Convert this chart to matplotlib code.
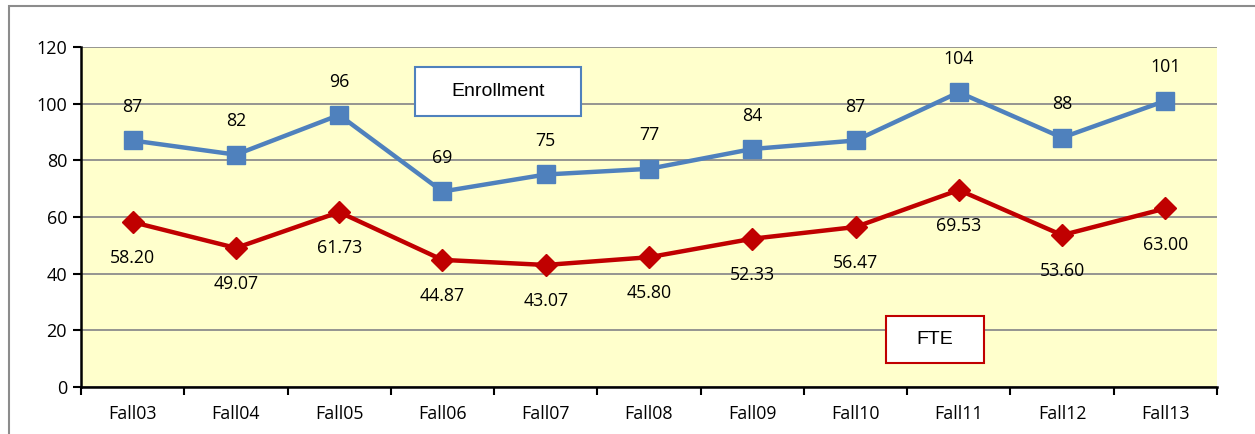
import numpy as np
import matplotlib
matplotlib.use('Agg')
import matplotlib.pyplot as plt
from matplotlib.patches import Rectangle

plt.rcParams['font.family'] = ['Open Sans', 'DejaVu Sans']

terms = ['Fall03', 'Fall04', 'Fall05', 'Fall06', 'Fall07', 'Fall08',
         'Fall09', 'Fall10', 'Fall11', 'Fall12', 'Fall13']
enrollment = [87, 82, 96, 69, 75, 77, 84, 87, 104, 88, 101]
fte = [58.20, 49.07, 61.73, 44.87, 43.07, 45.80, 52.33, 56.47, 69.53, 53.60, 63.00]

blue = '#4F81BD'
red = '#C00000'

W, H = 1255, 434
fig = plt.figure(figsize=(W / 100, H / 100), dpi=100)
# outer chart border (gray)
fig.add_artist(Rectangle((9 / W, -0.01), 1.2, (H - 6) / H + 0.01,
                         transform=fig.transFigure, fill=False,
                         edgecolor='#8c8c8c', linewidth=1.5))

ax = fig.add_axes([81 / W, 47 / H, (1217 - 81) / W, (387 - 47) / H])
ax.set_facecolor('#FFFFCC')

x = np.arange(len(terms))
ax.plot(x, enrollment, color=blue, lw=3.2, marker='s', ms=13, zorder=3)
ax.plot(x, fte, color=red, lw=3.2, marker='D', ms=11, zorder=3)

for xi, v in zip(x, enrollment):
    ax.annotate(f'{v:d}', (xi, v), xytext=(0, 24), textcoords='offset points',
                ha='center', va='center', fontsize=12.8)
for xi, v in zip(x, fte):
    ax.annotate(f'{v:.2f}', (xi, v), xytext=(0, -26), textcoords='offset points',
                ha='center', va='center', fontsize=12.8)

ax.set_xlim(-0.5, len(terms) - 0.5)
ax.set_ylim(0, 120)
ax.set_yticks(range(0, 121, 20))
ax.yaxis.grid(True, color='#8c8c8c', lw=1.3)
ax.set_axisbelow(True)

ax.set_xticks(x)
ax.set_xticklabels(terms)
ax.set_xticks(np.arange(-0.5, len(terms)), minor=True)
ax.tick_params(axis='x', which='major', length=0, pad=13, labelsize=12.8)
ax.tick_params(axis='x', which='minor', length=6, width=1.5, direction='out')
ax.tick_params(axis='y', length=6, width=1.5, labelsize=13, pad=4)

for s in ['top', 'right']:
    ax.spines[s].set_visible(False)
for s in ['left', 'bottom']:
    ax.spines[s].set_linewidth(1.8)
    ax.spines[s].set_color('black')


def legend_box(x0, y0, x1, y1, label, color):
    # pixel box -> axes fraction
    ax_l, ax_b, ax_w, ax_h = 81, H - 387, 1136, 340
    fx0 = (x0 - ax_l) / ax_w
    fx1 = (x1 - ax_l) / ax_w
    fy0 = (H - y1 - ax_b) / ax_h
    fy1 = (H - y0 - ax_b) / ax_h
    ax.add_patch(Rectangle((fx0, fy0), fx1 - fx0, fy1 - fy0, transform=ax.transAxes,
                           facecolor='white', edgecolor=color, lw=1.5, zorder=5))
    ax.text((fx0 + fx1) / 2, (fy0 + fy1) / 2, label, transform=ax.transAxes,
            ha='center', va='center', fontsize=14, family='Liberation Sans', zorder=6)


legend_box(415, 67, 581, 116, 'Enrollment', blue)
legend_box(886, 316, 984, 363, 'FTE', red)

fig.savefig('out.png', dpi=100)
